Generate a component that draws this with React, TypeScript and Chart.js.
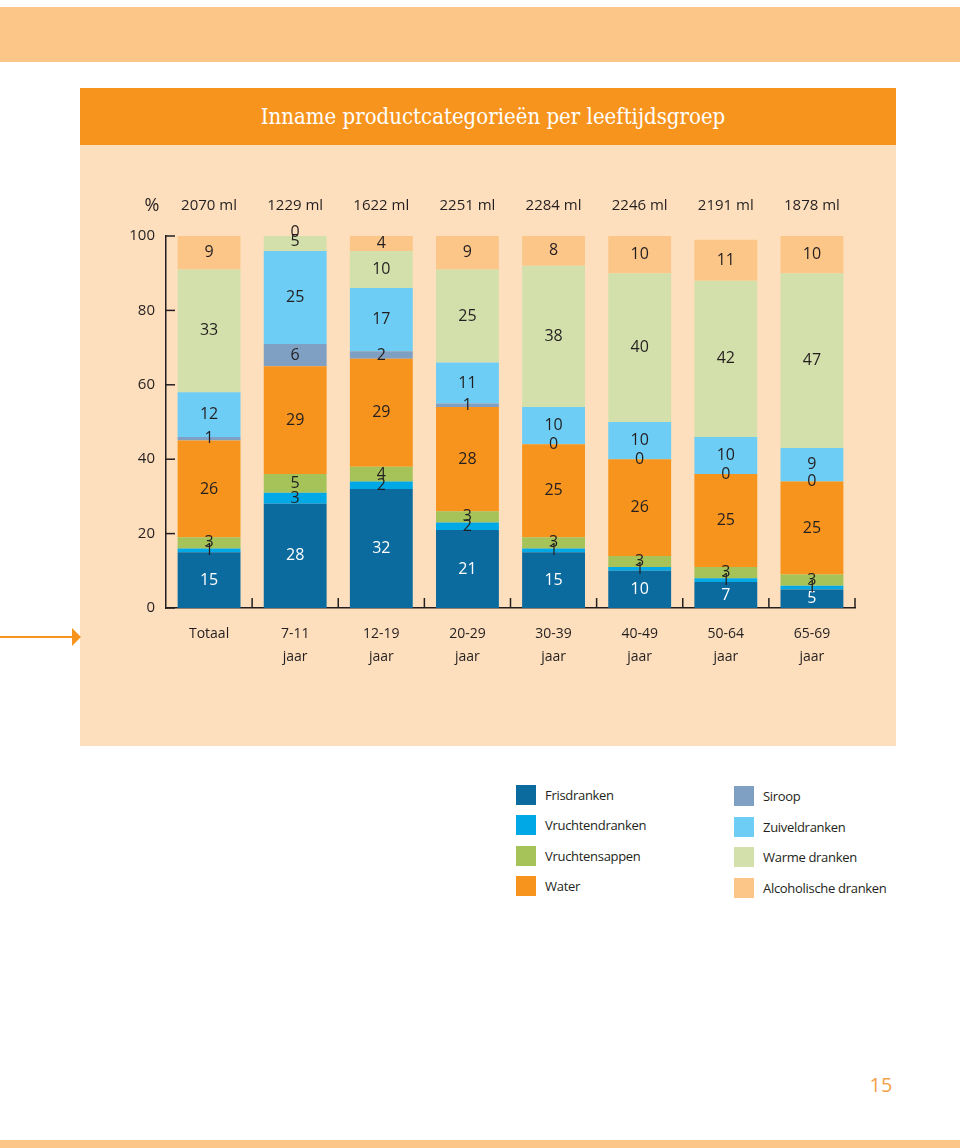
import React, { useEffect, useRef } from "react";
import { Chart, registerables } from "chart.js";

Chart.register(...registerables);

const categories: (string[])[] = [
  ["Totaal"],
  ["7-11", "jaar"],
  ["12-19", "jaar"],
  ["20-29", "jaar"],
  ["30-39", "jaar"],
  ["40-49", "jaar"],
  ["50-64", "jaar"],
  ["65-69", "jaar"],
];
const volumes = ["2070 ml", "1229 ml", "1622 ml", "2251 ml", "2284 ml", "2246 ml", "2191 ml", "1878 ml"];

const seriesNames = [
  "Frisdranken",
  "Vruchtendranken",
  "Vruchtensappen",
  "Water",
  "Siroop",
  "Zuiveldranken",
  "Warme dranken",
  "Alcoholische dranken",
];
const seriesColors = ["#0B6A9E", "#00A8E5", "#A6C35A", "#F7941D", "#7F9FC3", "#6DCDF5", "#D4E0AB", "#FCC689"];

const frisdranken = [15, 28, 32, 21, 15, 10, 7, 5];
const vruchtendranken = [1, 3, 2, 2, 1, 1, 1, 1];
const vruchtensappen = [3, 5, 4, 3, 3, 3, 3, 3];
const water = [26, 29, 29, 28, 25, 26, 25, 25];
const siroop = [1, 6, 2, 1, 0, 0, 0, 0];
const zuiveldranken = [12, 25, 17, 11, 10, 10, 10, 9];
const warmeDranken = [33, 5, 10, 25, 38, 40, 42, 47];
const alcoholischeDranken = [9, 0, 4, 9, 8, 10, 11, 10];

const seriesValues = [
  frisdranken,
  vruchtendranken,
  vruchtensappen,
  water,
  siroop,
  zuiveldranken,
  warmeDranken,
  alcoholischeDranken,
];

const TEXT = "#231F20";
const FONT = "'Open Sans', 'Noto Sans', sans-serif";

const decorPlugin = {
  id: "decor",
  afterDatasetsDraw(chart: any) {
    const ctx = chart.ctx;
    const area = chart.chartArea;
    const xs = chart.scales.x;
    const ys = chart.scales.y;
    ctx.save();
    // axis ticks
    ctx.strokeStyle = TEXT;
    ctx.lineWidth = 1.5;
    ys.ticks.forEach((t: any) => {
      const py = ys.getPixelForValue(t.value);
      ctx.beginPath();
      ctx.moveTo(area.left, py);
      ctx.lineTo(area.left + 9, py);
      ctx.stroke();
    });
    const n = categories.length;
    const w = (area.right - area.left) / n;
    for (let k = 1; k <= n; k++) {
      const px = area.left + k * w;
      ctx.beginPath();
      ctx.moveTo(px, area.bottom);
      ctx.lineTo(px, area.bottom - 10);
      ctx.stroke();
    }
    // volume labels
    ctx.fillStyle = TEXT;
    ctx.font = `15px ${FONT}`;
    ctx.textAlign = "center";
    ctx.textBaseline = "middle";
    volumes.forEach((v, i) => {
      ctx.fillText(v, xs.getPixelForValue(i), area.top - 30);
    });
    ctx.font = `18px ${FONT}`;
    ctx.fillText("%", area.left - 14, area.top - 30);
    // data labels
    ctx.font = `16px ${FONT}`;
    chart.data.datasets.forEach((ds: any, di: number) => {
      const meta = chart.getDatasetMeta(di);
      meta.data.forEach((el: any, j: number) => {
        const cy = (el.y + el.base) / 2;
        ctx.fillStyle = di === 0 ? "#FFFFFF" : TEXT;
        ctx.fillText(String(ds.data[j]), el.x, cy);
      });
    });
    ctx.restore();
  },
};

function BarChart() {
  const ref = useRef<HTMLCanvasElement | null>(null);
  useEffect(() => {
    if (!ref.current) return;
    const chart = new Chart(ref.current, {
      type: "bar",
      data: {
        labels: categories as any,
        datasets: seriesNames.map((name, i) => ({
          label: name,
          data: seriesValues[i],
          backgroundColor: seriesColors[i],
          borderWidth: 0,
          categoryPercentage: 1,
          barPercentage: 0.73,
          clip: 0,
        })),
      },
      options: {
        animation: false,
        responsive: false,
        maintainAspectRatio: false,
        layout: { padding: { top: 91, left: 0, right: 41, bottom: 0 } },
        plugins: {
          legend: { display: false },
          tooltip: { enabled: false },
          title: { display: false },
        },
        scales: {
          x: {
            stacked: true,
            offset: true,
            grid: { display: false, drawTicks: false },
            border: { display: true, color: TEXT, width: 1.5 },
            ticks: {
              color: TEXT,
              font: { family: FONT, size: 14, lineHeight: "23px" },
              padding: 14.5,
              autoSkip: false,
              maxRotation: 0,
              minRotation: 0,
            },
            afterFit: (s: any) => {
              s.height = 80;
            },
          },
          y: {
            stacked: true,
            min: 0,
            max: 100,
            grid: { display: false, drawTicks: false },
            border: { display: true, color: TEXT, width: 1.5 },
            ticks: {
              stepSize: 20,
              color: TEXT,
              font: { family: FONT, size: 15 },
              padding: 11,
            },
            afterFit: (s: any) => {
              s.width = 86;
            },
          },
        },
      },
      plugins: [decorPlugin],
    } as any);
    return () => chart.destroy();
  }, []);
  return <canvas ref={ref} width={816} height={543} style={{ position: "absolute", left: 80, top: 145, width: 816, height: 543 }} />;
}

export default function App() {
  const leftLegend = [0, 1, 2, 3];
  const rightLegend = [4, 5, 6, 7];
  const leftTops = [785, 815, 846, 876];
  const rightTops = [786, 817, 847, 878];
  const legendText = { fontSize: 13, letterSpacing: "-0.3px", color: TEXT, whiteSpace: "nowrap" as const, height: 18, lineHeight: "18px" };
  return (
    <div style={{ position: "absolute", left: 0, top: 0, width: 960, height: 1148, background: "#FFFFFF", fontFamily: FONT, overflow: "hidden" }}>
      <div style={{ position: "absolute", left: 0, top: 7, width: 960, height: 55, background: "#FCC689" }} />
      <div style={{ position: "absolute", left: 80, top: 145, width: 816, height: 601, background: "#FDDFBD" }} />
      <div
        style={{
          position: "absolute",
          left: 80,
          top: 88,
          width: 816,
          height: 57,
          background: "#F7941D",
          color: "#FFFFFF",
          display: "flex",
          alignItems: "center",
          justifyContent: "center",
          fontFamily: "'DejaVu Serif Condensed', 'DejaVu Serif', serif",
          fontStretch: "condensed",
          fontSize: 22,
        }}
      >
        <span style={{ marginLeft: 10 }}>Inname productcategorieën per leeftijdsgroep</span>
      </div>
      <div style={{ position: "absolute", left: 0, top: 636, width: 73, height: 2, background: "#F7941D" }} />
      <div
        style={{
          position: "absolute",
          left: 72,
          top: 628,
          width: 0,
          height: 0,
          borderLeft: "9px solid #F7941D",
          borderTop: "9px solid transparent",
          borderBottom: "9px solid transparent",
        }}
      />
      <BarChart />
      {leftLegend.map((si, k) => (
        <React.Fragment key={"l" + si}>
          <div style={{ position: "absolute", left: 516, top: leftTops[k], width: 20, height: 20, background: seriesColors[si] }} />
          <div style={{ position: "absolute", left: 545, top: leftTops[k] + 1, ...legendText }}>{seriesNames[si]}</div>
        </React.Fragment>
      ))}
      {rightLegend.map((si, k) => (
        <React.Fragment key={"r" + si}>
          <div style={{ position: "absolute", left: 734, top: rightTops[k], width: 20, height: 20, background: seriesColors[si] }} />
          <div style={{ position: "absolute", left: 763, top: rightTops[k] + 1, ...legendText }}>{seriesNames[si]}</div>
        </React.Fragment>
      ))}
      <div style={{ position: "absolute", left: 850, top: 1072, width: 62, textAlign: "center", fontSize: 20, lineHeight: "26px", color: "#F2A24A" }}>15</div>
      <div style={{ position: "absolute", left: 0, top: 1140, width: 960, height: 8, background: "#FCC689" }} />
    </div>
  );
}
